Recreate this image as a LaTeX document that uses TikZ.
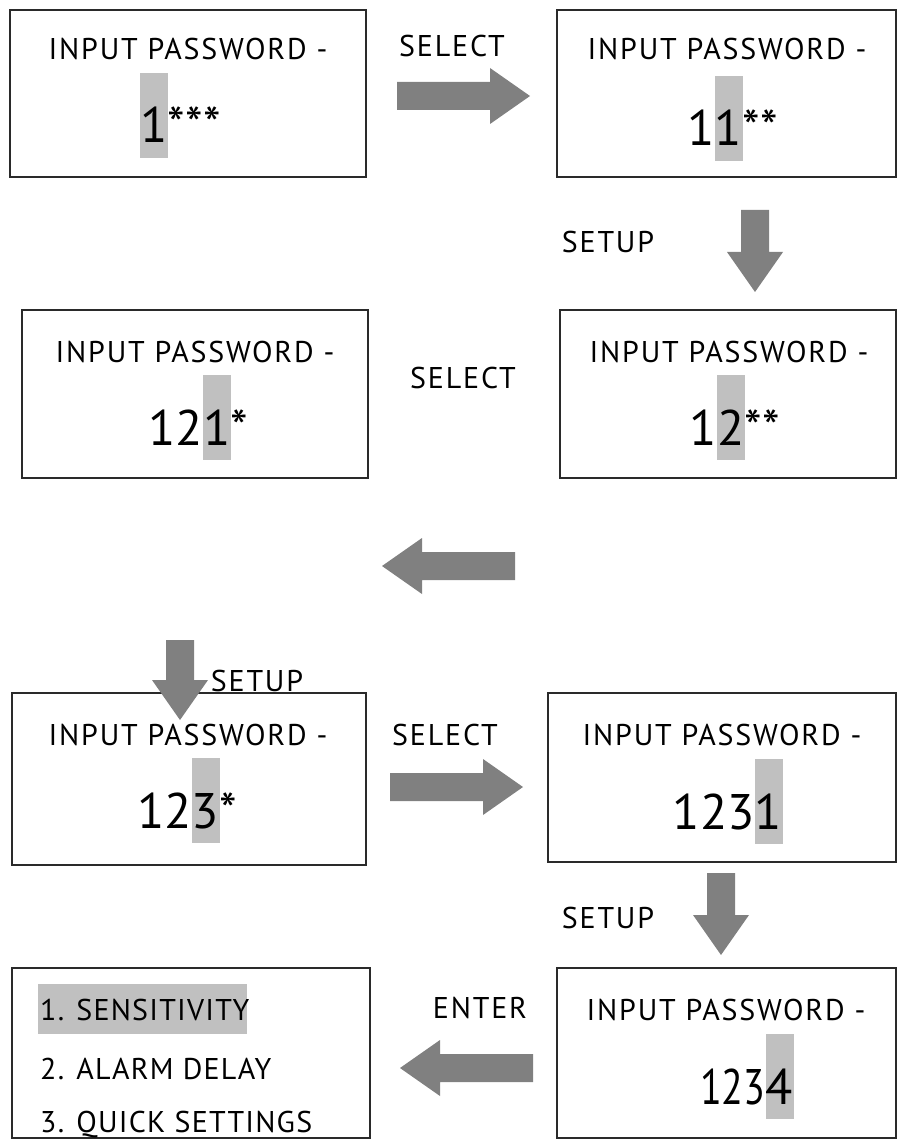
\documentclass[tikz,border=0pt]{standalone}
\usepackage{fontspec}
\setmainfont{PT Sans}
\definecolor{hlgray}{HTML}{C0C0C0}
\definecolor{arrowgray}{HTML}{808080}
\definecolor{framegray}{HTML}{2A2A2A}
% highlighted cursor digit: light grey bar behind one digit
\newcommand\hl[1]{\rlap{\textcolor{hlgray}{\rule[-15pt]{28pt}{85pt}}}\makebox[28pt]{#1}}
\newcommand\spaced[1]{\fontsize{#1}{#1}\selectfont\addfontfeature{LetterSpace=6}}
\tikzset{
  screen/.style={draw=framegray, line width=1.4pt, fill=none},
  title/.style={anchor=base, inner sep=0pt, font=\spaced{30}},
  digits/.style={anchor=base, inner sep=0pt, font=\fontsize{50}{56}\selectfont},
  keylabel/.style={anchor=base, inner sep=0pt, font=\spaced{30}},
  menuline/.style={anchor=base west, inner sep=0pt, font=\fontsize{30}{34}\selectfont\addfontfeature{LetterSpace=4}},
  pics/blockarrow/.style={code={
    \fill[arrowgray] (0,-14) -- ({#1-40},-14) -- ({#1-40},-28) -- (#1,0)
      -- ({#1-40},28) -- ({#1-40},14) -- (0,14) -- cycle;}},
}
\begin{document}
\begin{tikzpicture}[x=1pt,y=-1pt]
\useasboundingbox (0,0) rectangle (907,1139);
\fill[white] (0,0) rectangle (907,1139);

% ---- screens ----
\draw[screen] (10,10) rectangle (366,177);
\node (s1) at (188,93) {};
\draw[screen] (557,10) rectangle (896,177);
\node (s2) at (727,93) {};
\draw[screen] (22,310) rectangle (368,478);
\node (s3) at (195,394) {};
\draw[screen] (560,310) rectangle (896,478);
\node (s4) at (728,394) {};
\draw[screen] (12,693) rectangle (366,865);
\node (s5) at (189,779) {};
\draw[screen] (548,693) rectangle (896,862);
\node (s6) at (722,777) {};
\draw[screen] (12,968) rectangle (370,1138);
\node (s7) at (191,1053) {};
\draw[screen] (557,968) rectangle (896,1138);
\node (s8) at (726,1053) {};

% ---- screen texts ----
\node[title] (t1) at (188,60) {INPUT PASSWORD -};
\node[digits] (d1) at (154,143) {\hl{1}\rlap{***}};

\node[title] (t2) at (727,60) {INPUT PASSWORD -};
\node[digits] (d2) at (728.5,146) {\llap{1}\hl{1}\rlap{**}};

\node[title] (t3) at (195,362) {INPUT PASSWORD -};
\node[digits] (d3) at (217,445) {\llap{12}\hl{1}\rlap{*}};

\node[title] (t4) at (729,362) {INPUT PASSWORD -};
\node[digits] (d4) at (731,445) {\llap{1}\hl{2}\rlap{**}};

\node[title] (t5) at (188,745) {INPUT PASSWORD -};
\node[digits] (d5) at (205.5,828) {\llap{12}\hl{3}\rlap{*}};

\node[title] (t6) at (722,745) {INPUT PASSWORD -};
\node[digits] (d6) at (768.5,829) {\llap{123}\hl{1}};

\node[title] (t8) at (726,1020) {INPUT PASSWORD -};
\node[digits] (d8) at (779.5,1104) {\llap{\scalebox{0.8}[1]{123}}\hl{4}};

% menu screen
\fill[hlgray] (38,984) rectangle (247,1034);
\node[menuline] (m1) at (40,1020) {1. SENSITIVITY};
\node[menuline] (m2) at (40,1079) {2. ALARM DELAY};
\node[menuline] (m3) at (40,1132) {3. QUICK SETTINGS};

% ---- key labels ----
\node[keylabel] (k1) at (452,57) {SELECT};
\node[keylabel] (k2) at (608,253) {SETUP};
\node[keylabel] (k3) at (463,388) {SELECT};
\node[keylabel] (k4) at (257,691) {SETUP};
\node[keylabel] (k5) at (445,745) {SELECT};
\node[keylabel] (k6) at (608,928) {SETUP};
\node[keylabel] (k7) at (480,1018) {ENTER};

% ---- block arrows ----
\pic at (397,96) {blockarrow=133};
\pic[rotate=-90] at (755,210) {blockarrow=82};
\pic[xscale=-1] at (515,566) {blockarrow=133};
\pic[rotate=-90] at (180,640) {blockarrow=80};
\pic at (390,787) {blockarrow=133};
\pic[rotate=-90] at (721,873) {blockarrow=82};
\pic[xscale=-1] at (533,1068) {blockarrow=133};
\end{tikzpicture}
\end{document}
